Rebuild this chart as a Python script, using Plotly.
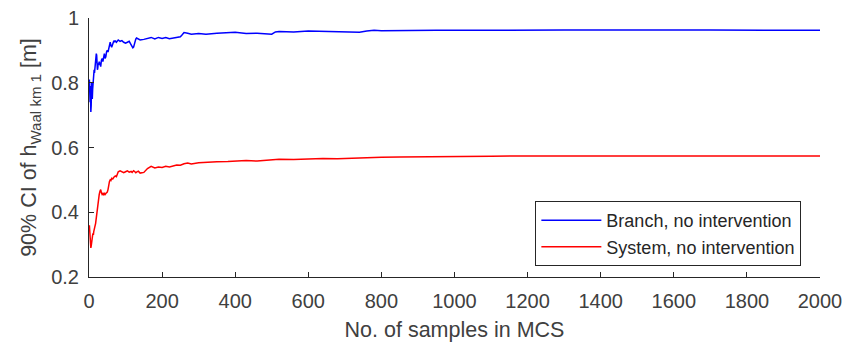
import plotly.graph_objects as go

samples = [1, 2, 3, 4, 5, 6, 7, 8, 9, 10, 11, 12, 13, 14, 15, 16, 17, 18, 19, 20,
           21, 22, 23, 24, 25, 26, 28, 30, 32, 34, 36, 38, 40, 42, 44, 46, 48, 50,
           52, 54, 56, 58, 60, 62, 65, 68, 70, 72, 75, 78, 80, 85, 90, 95, 100,
           105, 110, 115, 118, 120, 122, 125, 128, 130, 135, 140, 150, 160, 170,
           180, 190, 200, 210, 220, 230, 240, 250, 255, 260, 270, 280, 300, 320,
           350, 380, 400, 430, 460, 500, 510, 520, 560, 600, 640, 680, 720, 740,
           760, 780, 800, 850, 900, 950, 1000, 1100, 1200, 1300, 1400, 1500, 1600,
           1700, 1800, 1900, 2000]

branch = [0.81, 0.78, 0.74, 0.79, 0.71, 0.73, 0.80, 0.76, 0.75, 0.78, 0.80, 0.81,
          0.82, 0.84, 0.83, 0.85, 0.86, 0.87, 0.88, 0.89, 0.885, 0.86, 0.84, 0.845,
          0.86, 0.855, 0.865, 0.86, 0.85, 0.87, 0.875, 0.865, 0.885, 0.89, 0.875,
          0.88, 0.895, 0.90, 0.895, 0.905, 0.92, 0.925, 0.915, 0.91, 0.92, 0.93,
          0.925, 0.93, 0.925, 0.93, 0.932, 0.928, 0.93, 0.925, 0.922, 0.925, 0.928,
          0.918, 0.912, 0.908, 0.91, 0.925, 0.935, 0.938, 0.935, 0.932, 0.934,
          0.938, 0.94, 0.935, 0.94, 0.937, 0.94, 0.936, 0.938, 0.94, 0.942, 0.948,
          0.955, 0.953, 0.95, 0.952, 0.95, 0.953, 0.955, 0.956, 0.952, 0.953, 0.95,
          0.957, 0.958, 0.957, 0.96, 0.959, 0.957, 0.955, 0.956, 0.96, 0.962, 0.961,
          0.962, 0.961, 0.962, 0.962, 0.963, 0.962, 0.963, 0.963, 0.962, 0.963,
          0.963, 0.962, 0.963, 0.962]

system = [0.36, 0.34, 0.31, 0.30, 0.29, 0.295, 0.31, 0.32, 0.315, 0.33, 0.335, 0.33,
          0.34, 0.35, 0.345, 0.355, 0.36, 0.365, 0.375, 0.38, 0.39, 0.40, 0.41, 0.42,
          0.43, 0.44, 0.455, 0.465, 0.47, 0.46, 0.455, 0.458, 0.455, 0.46, 0.455,
          0.458, 0.46, 0.462, 0.47, 0.49, 0.495, 0.50, 0.498, 0.505, 0.503, 0.508,
          0.51, 0.512, 0.51, 0.518, 0.525, 0.528, 0.525, 0.522, 0.525, 0.528, 0.524,
          0.526, 0.523, 0.525, 0.528, 0.526, 0.522, 0.524, 0.527, 0.521, 0.523,
          0.535, 0.542, 0.537, 0.54, 0.538, 0.542, 0.54, 0.543, 0.546, 0.545, 0.548,
          0.55, 0.552, 0.549, 0.553, 0.555, 0.556, 0.557, 0.559, 0.56, 0.558, 0.561,
          0.563, 0.564, 0.563, 0.565, 0.566, 0.565, 0.567, 0.568, 0.569, 0.57, 0.57,
          0.571, 0.571, 0.572, 0.572, 0.573, 0.574, 0.574, 0.574, 0.574, 0.575,
          0.574, 0.575, 0.574, 0.574]

x_ticks = [0, 200, 400, 600, 800, 1000, 1200, 1400, 1600, 1800, 2000]
y_ticks = [0.2, 0.4, 0.6, 0.8, 1.0]
y_tick_labels = ["0.2", "0.4", "0.6", "0.8", "1"]

font_family = "Liberation Sans, Arial, Helvetica, sans-serif"
text_color = "#404040"
axis_color = "#262626"

fig = go.Figure()
fig.add_trace(go.Scatter(x=samples, y=branch, mode="lines",
                         name="Branch, no intervention",
                         line=dict(color="#0000ff", width=1.5)))
fig.add_trace(go.Scatter(x=samples, y=system, mode="lines",
                         name="System, no intervention",
                         line=dict(color="#ff0000", width=1.5)))

fig.update_layout(
    width=843, height=342,
    margin=dict(l=89, r=23, t=18, b=65),
    paper_bgcolor="white", plot_bgcolor="white",
    font=dict(family=font_family, color=text_color, size=18),
    showlegend=True,
    legend=dict(x=0.9745, y=0.293, xanchor="right", yanchor="top",
                bgcolor="white", bordercolor=axis_color, borderwidth=1,
                font=dict(size=18, color=axis_color), itemwidth=60,
                tracegroupgap=0),
)
fig.update_xaxes(
    range=[0, 2000], tickvals=x_ticks, ticks="inside", ticklen=5,
    tickcolor=axis_color, showline=True, linecolor=axis_color, linewidth=1,
    showgrid=False, zeroline=False, mirror=False, automargin=False,
    tickfont=dict(size=20, color=text_color), ticklabelstandoff=6,
    title=dict(text="No. of samples in MCS", font=dict(size=21.5, color=text_color),
               standoff=10),
)
fig.update_yaxes(
    range=[0.2, 1.0], tickvals=y_ticks, ticktext=y_tick_labels, ticks="inside",
    ticklen=5, tickcolor=axis_color, showline=True, linecolor=axis_color,
    linewidth=1, showgrid=False, zeroline=False, mirror=False, automargin=False,
    tickfont=dict(size=20, color=text_color), ticklabelstandoff=5,
    title=dict(text="90% CI of h<sub>Waal km 1</sub> [m]",
               font=dict(size=21.5, color=text_color), standoff=8),
)

fig.write_html("out.html")
